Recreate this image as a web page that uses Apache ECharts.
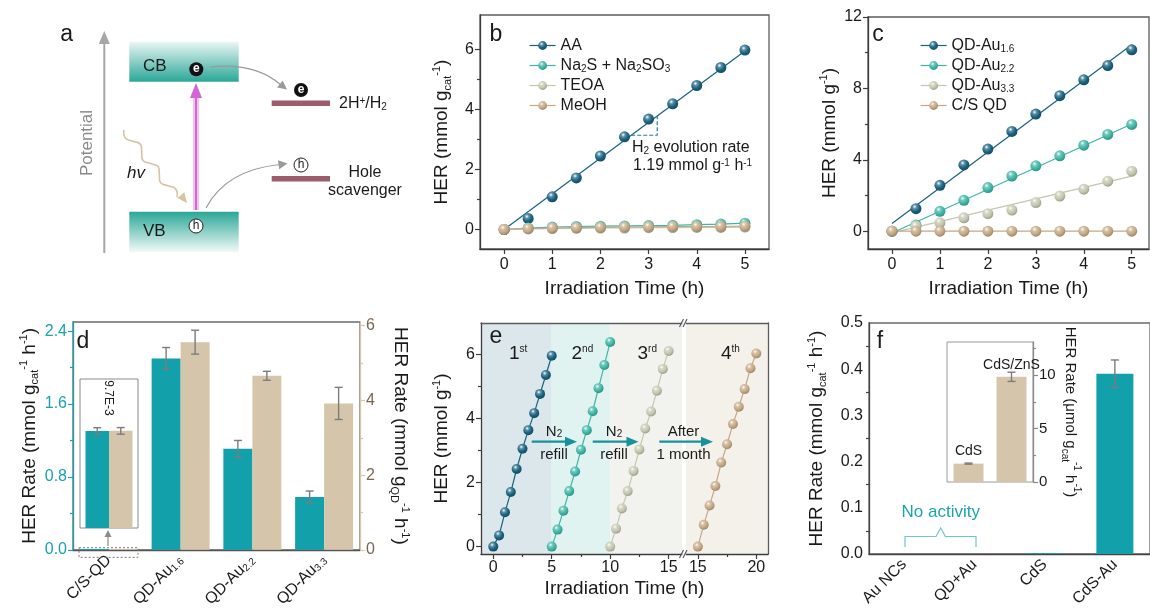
<!DOCTYPE html>
<html>
<head>
<meta charset="utf-8">
<script src="https://cdn.jsdelivr.net/npm/echarts@6/dist/echarts.min.js"></script>
<style>
  html, body { margin: 0; background: #fff; }
  #main { width: 1150px; height: 610px; }
</style>
</head>
<body>
<div id="main"></div>
<script>
// ---------- data ----------
// b: sacrificial agents
const timeB = [0, 0.5, 1, 1.5, 2, 2.5, 3, 3.5, 4, 4.5, 5];
const herAA = [0, 0.37, 1.09, 1.72, 2.45, 3.09, 3.68, 4.19, 4.80, 5.40, 5.98];
const herNa2S = [0, 0.05, 0.08, 0.10, 0.11, 0.12, 0.13, 0.14, 0.16, 0.18, 0.21];
const herTEOA = [0, 0.02, 0.03, 0.04, 0.05, 0.05, 0.06, 0.06, 0.07, 0.07, 0.08];
const herMeOH = [0, 0.03, 0.05, 0.06, 0.07, 0.08, 0.09, 0.10, 0.10, 0.10, 0.11];
const fitAA = [0, 5.95];           // fit line y at t = 0 and t = 5
const slopeX = [2.64, 3.18];       // dashed rate triangle
const rateAA = 1.19;

// c: Au loading
const herAu16 = [0, 1.26, 2.57, 3.71, 4.60, 5.59, 6.56, 7.59, 8.48, 9.28, 10.16];
const herAu22 = [0, 0.34, 1.11, 1.73, 2.44, 3.09, 3.66, 4.22, 4.82, 5.42, 5.98];
const herAu33 = [0, 0.28, 0.47, 0.75, 0.98, 1.18, 1.60, 1.97, 2.35, 2.80, 3.36];
const herCSQD = [0, 0, 0, 0, 0, 0, 0, 0, 0, 0, 0];
const fitAu16 = [0.43, 10.44];
const fitAu22 = [-0.10, 6.00];
const fitAu33 = [-0.10, 3.08];
const fitCSQD = [0, 0];

// d: rates
const catD = ['C/S-QD', 'QD-Au1.6', 'QD-Au2.2', 'QD-Au3.3'];
const rateCat = [0.0097, 2.10, 1.11, 0.58];
const rateCatErr = [0.00033, 0.12, 0.09, 0.065];
const rateQD = [0.0237, 5.56, 4.66, 3.92];
const rateQDErr = [0.0008, 0.32, 0.12, 0.43];

// e: cycling
const timeE1 = [0, 0.5, 1, 1.5, 2, 2.5, 3, 3.5, 4, 4.5, 5];
const timeE2 = [5, 5.5, 6, 6.5, 7, 7.5, 8, 8.5, 9, 9.5, 10];
const timeE3 = [10, 10.5, 11, 11.5, 12, 12.5, 13, 13.5, 14, 14.5, 15];
const timeE4 = [15, 15.5, 16, 16.5, 17, 17.5, 18, 18.5, 19, 19.5, 20];
const herE1 = [0, 0.35, 1.07, 1.70, 2.42, 3.05, 3.63, 4.16, 4.76, 5.35, 5.95];
const herE2 = [0, 0.53, 1.12, 1.73, 2.34, 3.02, 3.63, 4.22, 4.94, 5.66, 6.38];
const herE3 = [0, 0.56, 1.19, 1.73, 2.36, 3.03, 3.68, 4.21, 4.86, 5.54, 6.10];
const herE4 = [0, 0.68, 1.28, 1.89, 2.62, 3.19, 3.82, 4.36, 4.91, 5.56, 6.02];
const breakShift = 2.5;            // axis break: 4th run drawn after the gap

// f: controls
const catF = ['Au NCs', 'QD+Au', 'CdS', 'CdS-Au'];
const rateF = [0, 0, 0.0017, 0.39];
const rateFErr = [null, null, null, 0.03];
const catFInset = ['CdS', 'CdS/ZnS'];
const rateFInset = [1.72, 9.84];
const rateFInsetErr = [0.05, 0.43];

// ---------- style ----------
const FONT = '"Liberation Sans", Arial, Helvetica, sans-serif';
const AXIS = '#3c3c3c', TXT = '#1a1a1a', BOX = '#5c5c5c';
const C_DARK = '#18617f', C_TEAL = '#3db6a5', C_SAGE = '#c3c7ae', C_TAN = '#c6a884';
const BAR_TEAL = '#12a0aa', BAR_TAN = '#d5c5aa';
const ERR = '#7c7c7c';

const RICH = {
  sub: { fontSize: 11, lineHeight: 11, verticalAlign: 'bottom', fontFamily: FONT },
  sup: { fontSize: 11, lineHeight: 11, verticalAlign: 'top', fontFamily: FONT }
};
const RICH_S = {
  sub: { fontSize: 10, lineHeight: 10, verticalAlign: 'bottom', fontFamily: FONT },
  sup: { fontSize: 10, lineHeight: 10, verticalAlign: 'top', fontFamily: FONT }
};

function shade(hex, k) {
  const n = parseInt(hex.slice(1), 16);
  const t = k < 0 ? 0 : 255, a = Math.abs(k);
  const c = [n >> 16, (n >> 8) & 255, n & 255].map(v => Math.round(v + (t - v) * a));
  return 'rgb(' + c.join(',') + ')';
}
function sphere(c) {
  return {
    type: 'radial', x: 0.38, y: 0.32, r: 0.75,
    colorStops: [
      { offset: 0, color: '#ffffff' },
      { offset: 0.25, color: shade(c, 0.3) },
      { offset: 0.6, color: c },
      { offset: 1, color: shade(c, -0.25) }
    ]
  };
}
const pts = (xs, ys, dx) => xs.map((x, i) => [x + (dx || 0), ys[i]]);

function clean(o) {
  Object.keys(o).forEach(k => {
    if (o[k] === undefined) delete o[k];
    else if (o[k] && o[k].constructor === Object) clean(o[k]);
  });
  return o;
}

const xAxis = [], yAxis = [];
const add = (arr, o) => { arr.push(clean(o)); return arr.length - 1; };

function mainAxis(grid, min, max, ticks, o) {
  o = o || {};
  return {
    type: 'value', gridIndex: grid, min: min, max: max, position: o.position, z: o.z,
    name: o.name, nameLocation: 'middle', nameGap: o.nameGap, nameRotate: o.nameRotate,
    nameTextStyle: { fontSize: o.nameSize || 19, color: TXT, fontFamily: FONT, lineHeight: 22, rich: o.nameSize ? RICH_S : RICH },
    splitLine: { show: false },
    axisLine: { show: true, onZero: false, lineStyle: { color: o.lineColor || AXIS, width: 1.3 } },
    axisTick: { show: true, length: 5, customValues: ticks, lineStyle: { color: o.lineColor || AXIS, width: 1.2 } },
    axisLabel: {
      customValues: ticks, fontSize: o.labelSize || 16, color: o.labelColor || TXT,
      margin: o.margin || 6, fontFamily: FONT, formatter: o.fmt
    }
  };
}
function minorAxis(grid, min, max, ticks, position, o) {
  o = o || {};
  return {
    type: 'value', gridIndex: grid, min: min, max: max, position: position, z: o.z,
    splitLine: { show: false }, axisLine: { show: false, onZero: false }, axisLabel: { show: false },
    axisTick: { show: true, length: 3, customValues: ticks, lineStyle: { color: o.lineColor || AXIS, width: 1.2 } }
  };
}
function frameAxis(grid, min, max, position) {
  return {
    type: 'value', gridIndex: grid, position: position, min: min, max: max, z: 10, splitLine: { show: false },
    axisLine: { show: true, onZero: false, lineStyle: { color: BOX, width: 1.3 } },
    axisTick: { show: false }, axisLabel: { show: false }
  };
}

// ---------- grids ----------
const grid = [
  { left: 480, top: 15, width: 289, height: 234, show: true, borderColor: BOX, borderWidth: 1.3 },   // b
  { left: 868, top: 17, width: 281, height: 232, show: true, borderColor: BOX, borderWidth: 1.3 },   // c
  { left: 73, top: 322, width: 287, height: 231, show: true, borderColor: '#6a6a6a', borderWidth: 1.3 }, // d
  { left: 80, top: 379, width: 58, height: 149, show: true, borderColor: '#8a8a8a', borderWidth: 1 },   // d inset
  { left: 481, top: 323, width: 287, height: 231 },                                                   // e
  { left: 869, top: 323, width: 287, height: 231, show: true, borderColor: '#6a6a6a', borderWidth: 1.3 }, // f
  { left: 947, top: 342, width: 86, height: 140, show: true, borderColor: '#9a9a9a', borderWidth: 1 }   // f inset
];

// b axes
const bx = add(xAxis, mainAxis(0, -0.5, 5.5, [0, 1, 2, 3, 4, 5], { position: 'bottom', name: 'Irradiation Time (h)', nameGap: 29, margin: 8 }));
const by = add(yAxis, mainAxis(0, -0.65, 7.15, [0, 2, 4, 6], { position: 'left', name: 'HER (mmol g{sub|cat}{sup|-1})', nameGap: 27 }));
add(yAxis, minorAxis(0, -0.65, 7.15, [1, 3, 5], 'left'));

// c axes
const cx = add(xAxis, mainAxis(1, -0.5, 5.36, [0, 1, 2, 3, 4, 5], { position: 'bottom', name: 'Irradiation Time (h)', nameGap: 29, margin: 8 }));
const cy = add(yAxis, mainAxis(1, -1, 12, [0, 4, 8, 12], { position: 'left', name: 'HER (mmol g{sup|-1})', nameGap: 26 }));
add(yAxis, minorAxis(1, -1, 12, [2, 6, 10], 'left'));

// d axes
const subLabel = s => s.replace(/^(QD-Au)(.+)$/, '$1{s|$2}');
const dx = add(xAxis, {
  type: 'category', gridIndex: 2, data: catD, position: 'bottom',
  axisLine: { lineStyle: { color: '#555', width: 1.3 } },
  axisTick: { alignWithLabel: true, length: 5, lineStyle: { color: '#555' } },
  axisLabel: {
    rotate: 45, fontSize: 16, color: TXT, margin: 8, fontFamily: FONT, formatter: subLabel,
    rich: { s: { fontSize: 10, lineHeight: 10, verticalAlign: 'bottom', fontFamily: FONT } }
  }
});
const dyL = add(yAxis, mainAxis(2, 0, 2.5, [0, 0.8, 1.6, 2.4], {
  position: 'left', name: 'HER Rate (mmol g{sub|cat}{sup|-1} h{sup|-1})', nameGap: 30,
  lineColor: '#1a9fae', labelColor: '#17a2b0', fmt: v => v.toFixed(1)
}));
add(yAxis, minorAxis(2, 0, 2.5, [0.4, 1.2, 2.0], 'left', { lineColor: '#1a9fae' }));
const dyR = add(yAxis, mainAxis(2, 0, 6.1, [0, 2, 4, 6], {
  position: 'right', name: 'HER Rate (mmol g{sub|QD}{sup|-1} h{sup|-1})', nameGap: 29, nameRotate: -90,
  lineColor: '#d8c6a6', labelColor: '#7a6650'
}));
add(yAxis, minorAxis(2, 0, 6.1, [1, 3, 5], 'right', { lineColor: '#d8c6a6' }));

// d inset axes (same two scales, zoomed on C/S-QD)
const insetLMax = 0.0149, insetRMax = insetLMax * 6.1 / 2.5;
const dix = add(xAxis, { type: 'category', gridIndex: 3, data: ['C/S-QD'], show: false });
const diyL = add(yAxis, { type: 'value', gridIndex: 3, min: 0, max: insetLMax, show: false });
const diyR = add(yAxis, { type: 'value', gridIndex: 3, min: 0, max: insetRMax, show: false });

// e axes
const ex = add(xAxis, mainAxis(4, -1.05, 23.5, [0, 5, 10, 15, 15 + breakShift, 20 + breakShift], {
  position: 'bottom', name: 'Irradiation Time (h)', nameGap: 24, margin: 6, z: 10,
  fmt: v => String(v > 16 ? v - breakShift : v)
}));
add(xAxis, minorAxis(4, -1.05, 23.5, [2.5, 7.5, 12.5, 17.5 + breakShift], 'bottom', { z: 10 }));
add(xAxis, frameAxis(4, -1.05, 23.5, 'top'));
const ey = add(yAxis, mainAxis(4, -0.23, 6.97, [0, 2, 4, 6], { position: 'left', name: 'HER (mmol g{sup|-1})', nameGap: 28, z: 10 }));
add(yAxis, minorAxis(4, -0.23, 6.97, [1, 3, 5], 'left', { z: 10 }));
add(yAxis, frameAxis(4, -0.23, 6.97, 'right'));

// f axes
const fx = add(xAxis, {
  type: 'category', gridIndex: 5, data: catF, position: 'bottom',
  axisLine: { lineStyle: { color: '#444', width: 1.3 } },
  axisTick: { alignWithLabel: true, length: 5, lineStyle: { color: '#444' } },
  axisLabel: { rotate: 45, fontSize: 16, color: TXT, margin: 8, fontFamily: FONT }
});
const fy = add(yAxis, {
  type: 'value', gridIndex: 5, min: 0, max: 0.5, interval: 0.1, position: 'left',
  name: 'HER Rate (mmol g{sub|cat}{sup|-1} h{sup|-1})', nameLocation: 'middle', nameGap: 41,
  nameTextStyle: { fontSize: 19, color: TXT, fontFamily: FONT, lineHeight: 22, rich: RICH },
  splitLine: { show: false },
  axisLine: { show: true, onZero: false, lineStyle: { color: '#444', width: 1.3 } },
  axisTick: { length: 5, lineStyle: { color: '#444', width: 1.2 } },
  minorTick: { show: true, splitNumber: 2, length: 3, lineStyle: { color: '#444', width: 1.2 } },
  axisLabel: { fontSize: 16, color: TXT, fontFamily: FONT, margin: 6, formatter: v => v.toFixed(1) }
});
const fix = add(xAxis, { type: 'category', gridIndex: 6, data: catFInset, position: 'bottom', axisLine: { show: false },
  axisTick: { show: false }, axisLabel: { show: false } });
const fiy = add(yAxis, mainAxis(6, 0, 13.1, [0, 5, 10], {
  position: 'right', name: 'HER Rate (μmol g{sub|cat}{sup|-1} h{sup|-1})', nameGap: 16, nameRotate: -90,
  nameSize: 15, labelSize: 15, lineColor: '#8a8a8a'
}));
add(yAxis, minorAxis(6, 0, 13.1, [2.5, 7.5, 12.5], 'right', { lineColor: '#8a8a8a' }));

// ---------- series helpers ----------
function dots(name, xi, yi, data, color, o) {
  o = o || {};
  return clean({
    type: 'line', name: name, xAxisIndex: xi, yAxisIndex: yi, data: data,
    symbol: 'circle', symbolSize: o.size || 11, showAllSymbol: true,
    itemStyle: { color: sphere(color) },
    lineStyle: { color: color, width: 1.2, opacity: o.noLine ? 0 : 1 },
    emphasis: { disabled: true }, animation: false, z: o.z || 3
  });
}
function fit(xi, yi, x0, x1, ys, color) {
  return {
    type: 'line', xAxisIndex: xi, yAxisIndex: yi, data: [[x0, ys[0]], [x1, ys[1]]],
    showSymbol: false, silent: true, lineStyle: { color: color, width: 1.2 }, z: 2, animation: false
  };
}
function errBars(xi, yi, vals, errs, offset, cap) {
  const data = [];
  vals.forEach((v, i) => { if (errs[i] != null) data.push([i, v, errs[i]]); });
  return {
    type: 'custom', xAxisIndex: xi, yAxisIndex: yi, data: data, silent: true, z: 5, animation: false,
    renderItem: function (params, api) {
      const i = api.value(0), v = api.value(1), e = api.value(2);
      const hi = api.coord([i, v + e]), lo = api.coord([i, v - e]);
      const x = hi[0] + offset, st = { stroke: ERR, lineWidth: 1.4 };
      return {
        type: 'group', children: [
          { type: 'line', shape: { x1: x, y1: hi[1], x2: x, y2: lo[1] }, style: st },
          { type: 'line', shape: { x1: x - cap, y1: hi[1], x2: x + cap, y2: hi[1] }, style: st },
          { type: 'line', shape: { x1: x - cap, y1: lo[1], x2: x + cap, y2: lo[1] }, style: st }
        ]
      };
    }
  };
}

const slopeY = slopeX.map(x => fitAA[0] + rateAA * x);

const series = [
  // b
  dots('AA', bx, by, pts(timeB, herAA), C_DARK, { noLine: true }),
  fit(bx, by, 0, 5, fitAA, C_DARK),
  { type: 'line', xAxisIndex: bx, yAxisIndex: by, silent: true, showSymbol: false, animation: false,
    data: [[slopeX[0], slopeY[0]], [slopeX[1], slopeY[0]], [slopeX[1], slopeY[1]]],
    lineStyle: { color: '#2a7aa0', width: 1.2, type: [4, 2] } },
  dots('Na2S + Na2SO3', bx, by, pts(timeB, herNa2S), C_TEAL),
  dots('TEOA', bx, by, pts(timeB, herTEOA), C_SAGE),
  dots('MeOH', bx, by, pts(timeB, herMeOH), C_TAN),
  // c
  dots('QD-Au1.6', cx, cy, pts(timeB, herAu16), C_DARK, { noLine: true }),
  fit(cx, cy, 0, 5, fitAu16, C_DARK),
  dots('QD-Au2.2', cx, cy, pts(timeB, herAu22), C_TEAL, { noLine: true }),
  fit(cx, cy, 0, 5, fitAu22, C_TEAL),
  dots('QD-Au3.3', cx, cy, pts(timeB, herAu33), C_SAGE, { noLine: true }),
  fit(cx, cy, 0, 5, fitAu33, C_SAGE),
  dots('C/S QD', cx, cy, pts(timeB, herCSQD), C_TAN, { noLine: true }),
  fit(cx, cy, 0, 5, fitCSQD, C_TAN),
  // d
  { type: 'bar', xAxisIndex: dx, yAxisIndex: dyL, data: rateCat, barWidth: 29, barGap: '0%',
    itemStyle: { color: BAR_TEAL }, silent: true, animation: false },
  { type: 'bar', xAxisIndex: dx, yAxisIndex: dyR, data: rateQD, barWidth: 29, barGap: '0%',
    itemStyle: { color: BAR_TAN }, silent: true, animation: false },
  errBars(dx, dyL, rateCat, [null].concat(rateCatErr.slice(1)), -14.5, 4),
  errBars(dx, dyR, rateQD, [null].concat(rateQDErr.slice(1)), 14.5, 4),
  // d inset
  { type: 'bar', xAxisIndex: dix, yAxisIndex: diyL, data: [rateCat[0]], barWidth: 23.5, barGap: '0%',
    itemStyle: { color: BAR_TEAL }, silent: true, animation: false },
  { type: 'bar', xAxisIndex: dix, yAxisIndex: diyR, data: [rateQD[0]], barWidth: 23.5, barGap: '0%',
    itemStyle: { color: BAR_TAN }, silent: true, animation: false },
  errBars(dix, diyL, [rateCat[0]], [rateCatErr[0]], -11.75, 4),
  errBars(dix, diyR, [rateQD[0]], [rateQDErr[0]], 11.75, 4),
  // e bands
  { type: 'line', xAxisIndex: ex, yAxisIndex: ey, data: [], silent: true, z: 1,
    markArea: { silent: true, data: [
      [{ xAxis: -1.05, itemStyle: { color: '#dbe7ea' } }, { xAxis: 5 }],
      [{ xAxis: 5, itemStyle: { color: '#e1f3f0' } }, { xAxis: 10 }],
      [{ xAxis: 10, itemStyle: { color: '#f2f3ee' } }, { xAxis: 16.17 }],
      [{ xAxis: 16.45, itemStyle: { color: '#f4f1eb' } }, { xAxis: 23.5 }]
    ] } },
  dots('e1', ex, ey, pts(timeE1, herE1), C_DARK, { size: 10 }),
  dots('e2', ex, ey, pts(timeE2, herE2), C_TEAL, { size: 10 }),
  dots('e3', ex, ey, pts(timeE3, herE3), C_SAGE, { size: 10 }),
  dots('e4', ex, ey, pts(timeE4, herE4, breakShift), C_TAN, { size: 10 }),
  // f
  { type: 'bar', xAxisIndex: fx, yAxisIndex: fy, data: rateF, barWidth: 37,
    itemStyle: { color: BAR_TEAL }, silent: true, animation: false },
  errBars(fx, fy, rateF, rateFErr, 0, 4),
  { type: 'bar', xAxisIndex: fix, yAxisIndex: fiy, data: rateFInset, barWidth: 30,
    itemStyle: { color: BAR_TAN }, silent: true, animation: false,
    label: { show: true, position: 'top', distance: 5, formatter: '{b}', fontSize: 14, color: TXT, fontFamily: FONT } },
  errBars(fix, fiy, rateFInset, rateFInsetErr, 0, 4)
];

// ---------- legends ----------
const legendLabel = {
  'Na2S + Na2SO3': 'Na{sub|2}S + Na{sub|2}SO{sub|3}',
  'QD-Au1.6': 'QD-Au{sub|1.6}', 'QD-Au2.2': 'QD-Au{sub|2.2}', 'QD-Au3.3': 'QD-Au{sub|3.3}'
};
function legend(left, top, names) {
  return {
    left: left, top: top, orient: 'vertical', itemGap: 3, itemWidth: 26, itemHeight: 11,
    selectedMode: false, data: names, lineStyle: { opacity: 1, width: 1.2 },
    formatter: n => legendLabel[n] || n,
    textStyle: { fontSize: 16, color: TXT, fontFamily: FONT, lineHeight: 17, rich: RICH_S }
  };
}

// ---------- graphics (panel a schematic, letters, annotations) ----------
function txt(x, y, text, o) {
  o = o || {};
  return {
    type: 'text', x: x, y: y, rotation: o.rot || 0, z: 60, silent: true,
    style: {
      text: text, fill: o.color || TXT, fontSize: o.size || 16, fontFamily: FONT,
      fontStyle: o.italic ? 'italic' : 'normal', fontWeight: o.bold ? 'bold' : 'normal',
      align: o.align || 'center', verticalAlign: 'middle', rich: o.rich
    }
  };
}
function head(tx, ty, ux, uy, len, half, color) {
  const bx0 = tx - ux * len, by0 = ty - uy * len;
  return { type: 'polygon', z: 60, silent: true, shape: { points: [
    [tx, ty], [bx0 - uy * half, by0 + ux * half], [bx0 + uy * half, by0 - ux * half]] },
    style: { fill: color } };
}
function seg(x1, y1, x2, y2, color, w, dash) {
  return { type: 'line', z: 60, silent: true, shape: { x1: x1, y1: y1, x2: x2, y2: y2 },
    style: { stroke: color, lineWidth: w || 1.2, lineDash: dash } };
}
function eDot(x, y) {
  return [
    { type: 'circle', z: 60, silent: true, shape: { cx: x, cy: y, r: 7 }, style: { fill: '#111' } },
    txt(x, y - 0.5, 'e', { color: '#fff', size: 12, bold: true })
  ];
}
function hDot(x, y) {
  return [
    { type: 'circle', z: 60, silent: true, shape: { cx: x, cy: y, r: 7 }, style: { fill: '#fff', stroke: '#222', lineWidth: 1 } },
    txt(x, y, 'h', { size: 12 })
  ];
}
function norm(dx0, dy0) { const l = Math.hypot(dx0, dy0); return [dx0 / l, dy0 / l]; }

// wavy photon arrow
const waveFrom = [124, 130], waveTo = [177, 197];
const wu = norm(waveTo[0] - waveFrom[0], waveTo[1] - waveFrom[1]);
const wave = [];
for (let i = 0; i <= 12; i++) {
  const t = i / 12, off = i % 2 ? (i % 4 === 1 ? 4 : -4) : 0;
  wave.push([waveFrom[0] + (waveTo[0] - waveFrom[0]) * t - wu[1] * off,
             waveFrom[1] + (waveTo[1] - waveFrom[1]) * t + wu[0] * off]);
}

const teal = (a, b) => ({ type: 'linear', x: 0, y: 0, x2: 0, y2: 1,
  colorStops: [{ offset: 0, color: a }, { offset: 1, color: b }] });

const arrowE = (x0, x1, y) => [seg(x0, y, x1 - 8, y, '#17929b', 2.2), head(x1, y, 1, 0, 12, 5, '#17929b')];

const breakMarks = [
  { type: 'rect', silent: true, shape: { x: 682.3, y: 318, width: 3.4, height: 241 }, style: { fill: '#fff' } },
  seg(679.5, 327, 683.5, 319, '#555', 1.1), seg(683, 327, 687, 319, '#555', 1.1),
  seg(679.5, 558, 683.5, 550, '#555', 1.1), seg(683, 558, 687, 550, '#555', 1.1)
].map(g => Object.assign(g, { z: 50 }));

const graphic = [].concat(
  // panel a
  [seg(104.3, 253, 104.3, 42, '#a6a6a6', 2), head(104.3, 31, 0, -1, 13, 5.5, '#a6a6a6'),
   txt(87, 143, 'Potential', { rot: Math.PI / 2, color: '#8a8a8a', size: 17 }),
   { type: 'rect', z: 55, silent: true, shape: { x: 129.3, y: 41.7, width: 109.4, height: 40 },
     style: { fill: teal('#eaf6f4', '#2aa797') } },
   { type: 'rect', z: 55, silent: true, shape: { x: 129.3, y: 211.7, width: 109.4, height: 40.6 },
     style: { fill: teal('#2aa797', '#f3faf9') } },
   txt(143, 66, 'CB', { size: 17, align: 'left' }),
   txt(143, 231, 'VB', { size: 17, align: 'left' }),
   seg(196, 210, 196, 95, '#f2c3ef', 6), seg(196, 210, 196, 95, '#d464d4', 2),
   head(196, 83, 0, -1, 15, 6, '#d464d4'),
   { type: 'bezierCurve', z: 60, silent: true, shape: { x1: 210, y1: 67, x2: 281, y2: 85, cpx1: 255, cpy1: 62 },
     style: { stroke: '#9a9a9a', lineWidth: 1.2, fill: null } },
   head(287, 89.5, 0.79, 0.61, 9, 4.5, '#9a9a9a'),
   { type: 'bezierCurve', z: 60, silent: true, shape: { x1: 206, y1: 208, x2: 280, y2: 164.5, cpx1: 226, cpy1: 170 },
     style: { stroke: '#9a9a9a', lineWidth: 1.2, fill: null } },
   head(287.5, 163.5, 0.99, -0.14, 9, 4.5, '#9a9a9a'),
   { type: 'rect', z: 55, silent: true, shape: { x: 271.7, y: 100.5, width: 58.3, height: 5.5 }, style: { fill: '#9b5d6c' } },
   { type: 'rect', z: 55, silent: true, shape: { x: 271.7, y: 176, width: 58.3, height: 5.5 }, style: { fill: '#9b5d6c' } },
   txt(339, 104, '2H{sup|+}/H{sub|2}', { align: 'left', rich: RICH_S }),
   txt(365, 173, 'Hole'), txt(365, 191, 'scavenger'),
   { type: 'polyline', z: 60, silent: true, shape: { points: wave, smooth: 0.5 },
     style: { stroke: '#d8c2a2', lineWidth: 1.6, fill: null } },
   head(187, 203, wu[0], wu[1], 10, 4.5, '#d8c2a2'),
   txt(136, 173, 'hv', { italic: true, size: 17 })],
  eDot(196.3, 69.3), eDot(301, 90), hDot(196, 226), hDot(301, 165),
  // panel letters
  [txt(66.7, 35, 'a', { size: 23 }), txt(496, 35, 'b', { size: 23 }), txt(878, 35, 'c', { size: 23 }),
   txt(83, 342, 'd', { size: 23 }), txt(496, 337, 'e', { size: 23 }), txt(880, 342, 'f', { size: 23 })],
  // b annotation
  [txt(632, 148, 'H{sub|2} evolution rate', { align: 'left', size: 16, rich: RICH_S }),
   txt(633, 166, '1.19 mmol g{sup|-1} h{sup|-1}', { align: 'left', size: 16, rich: RICH_S })],
  // d inset notes
  [txt(108, 398, '9.7E-3', { rot: -Math.PI / 2, size: 12 }),
   { type: 'rect', z: 60, silent: true, shape: { x: 79, y: 547.7, width: 59, height: 9.6 },
     style: { fill: null, stroke: '#7a7a7a', lineWidth: 1, lineDash: [2, 2] } },
   seg(108, 546, 108, 536, '#8a8a8a', 1.2), head(108, 530, 0, -1, 7, 3.5, '#8a8a8a')],
  // e annotations
  breakMarks,
  [txt(509, 354, '1{sup|st}', { align: 'left', size: 19, rich: RICH_S }),
   txt(571.5, 354, '2{sup|nd}', { align: 'left', size: 19, rich: RICH_S }),
   txt(637.5, 354, '3{sup|rd}', { align: 'left', size: 19, rich: RICH_S }),
   txt(721, 354, '4{sup|th}', { align: 'left', size: 19, rich: RICH_S }),
   txt(554, 432, 'N{sub|2}', { size: 15, rich: RICH_S }), txt(554, 455, 'refill', { size: 15 }),
   txt(614, 432, 'N{sub|2}', { size: 15, rich: RICH_S }), txt(614, 455, 'refill', { size: 15 }),
   txt(683.5, 432, 'After', { size: 15 }), txt(683.5, 455, '1 month', { size: 15 })],
  arrowE(531.7, 577, 441.7), arrowE(592.7, 638.5, 441.7), arrowE(659.3, 713, 441.7),
  // f annotations
  [txt(940.7, 512.7, 'No activity', { size: 17, color: '#1aa5ad' }),
   { type: 'polyline', z: 60, silent: true, shape: { points: [[905, 547], [905, 536.5], [936, 536.5], [940.7, 528], [945.4, 536.5], [976, 536.5], [976, 547]] },
     style: { stroke: '#6cc6ca', lineWidth: 1.2, fill: null } }]
);

const chart = echarts.init(document.getElementById('main'), null, { renderer: 'canvas' });
chart.setOption({
  animation: false,
  backgroundColor: '#ffffff',
  textStyle: { fontFamily: FONT },
  grid: grid,
  xAxis: xAxis,
  yAxis: yAxis,
  legend: [
    legend(524, 32, ['AA', 'Na2S + Na2SO3', 'TEOA', 'MeOH']),
    legend(915, 32, ['QD-Au1.6', 'QD-Au2.2', 'QD-Au3.3', 'C/S QD'])
  ],
  series: series,
  graphic: graphic
});
</script>
</body>
</html>
